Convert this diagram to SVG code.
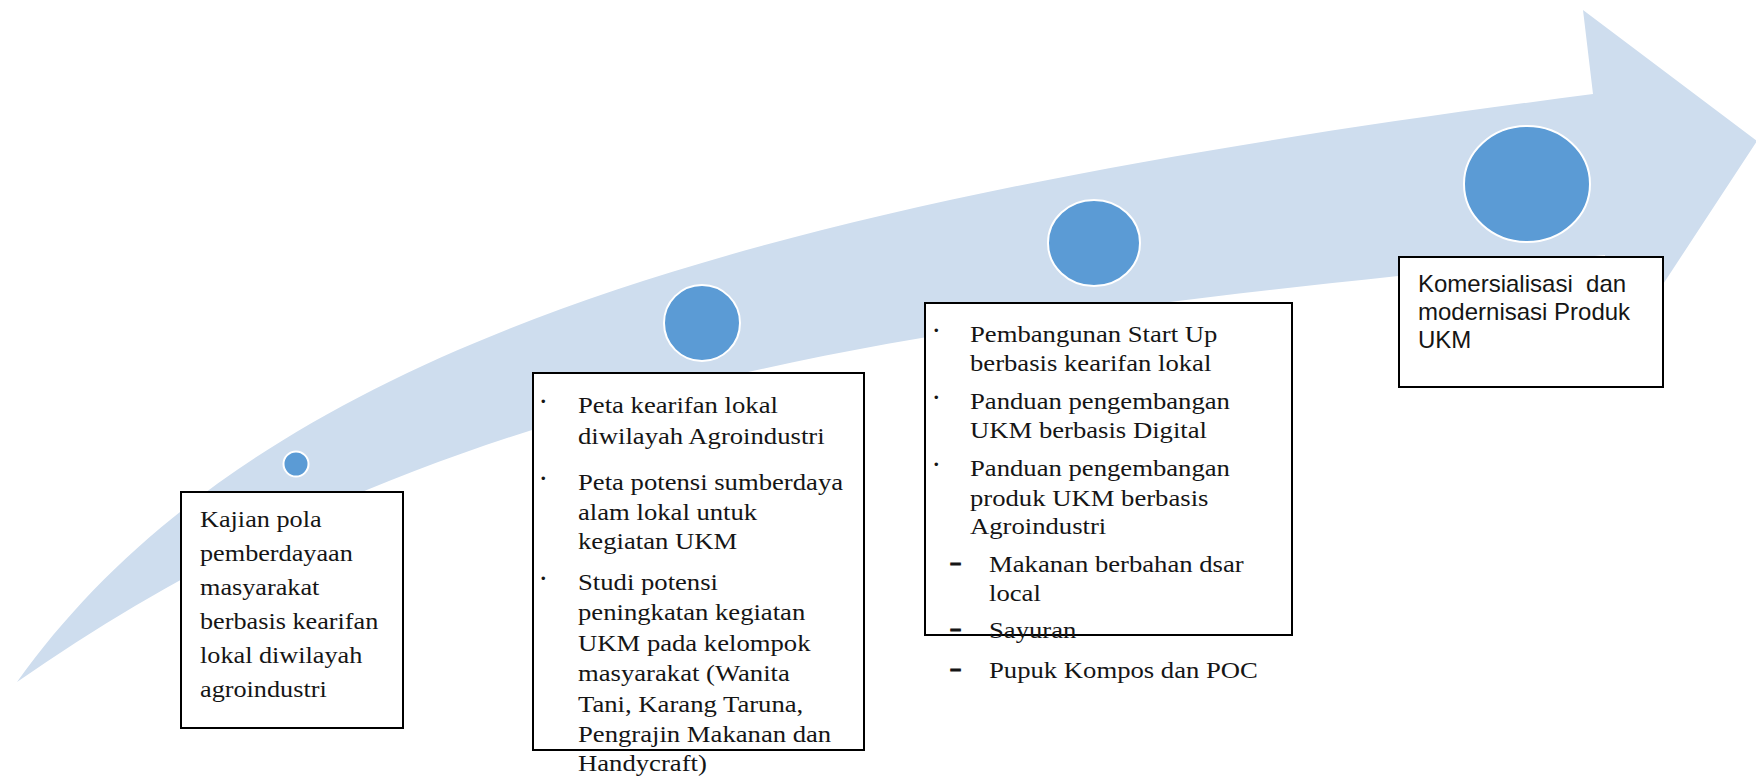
<svg xmlns="http://www.w3.org/2000/svg" width="1756" height="777" viewBox="0 0 1756 777">
<defs>
<style>
.band{fill:#CEDDEE;stroke:none}
.dot{fill:#5B9BD5;stroke:#FFFFFF;stroke-width:2}
.box{fill:#FFFFFF;stroke:#000000;stroke-width:2}
.serif{font-family:"Liberation Serif","Times New Roman",serif;font-size:23px;fill:#151515}
.sans{font-family:"Liberation Sans",Arial,sans-serif;font-size:24px;fill:#151515}
.bullet{font-family:"Liberation Sans",Arial,sans-serif;font-size:13px;fill:#151515}
.dash{font-family:"Liberation Sans",Arial,sans-serif;font-size:20px;font-weight:bold;fill:#151515;stroke:#151515;stroke-width:0.8}
</style>
</defs>
<rect x="0" y="0" width="1756" height="777" fill="#FFFFFF"/>
<g id="connectors">
<path id="progress-arrow" class="band" d="M17,682 C267,332 793,198 1593,94 L1583,10 L1757,141 L1610,365 L1605,255 C955,320 467,367 17,682 Z"/>
</g>
<g id="stage1">
<ellipse class="dot" cx="296" cy="464" rx="12.5" ry="12.5"/>
<rect class="box" x="181" y="492" width="222" height="236"/>
<g transform="translate(200 0) scale(1.14 1)" class="serif">
<text x="0" y="527">Kajian pola</text>
<text x="0" y="561">pemberdayaan</text>
<text x="0" y="595">masyarakat</text>
<text x="0" y="629">berbasis kearifan</text>
<text x="0" y="663">lokal diwilayah</text>
<text x="0" y="697">agroindustri</text>
</g>
</g>
<g id="stage2">
<ellipse class="dot" cx="702" cy="323" rx="38" ry="38"/>
<rect class="box" x="533" y="373" width="331" height="377"/>
<text class="bullet" x="541" y="405.5">•</text>
<text class="bullet" x="541" y="482.5">•</text>
<text class="bullet" x="541" y="582.5">•</text>
<g transform="translate(578 0) scale(1.16 1)" class="serif">
<text x="0" y="413">Peta kearifan lokal</text>
<text x="0" y="444">diwilayah Agroindustri</text>
<text x="0" y="490">Peta potensi sumberdaya</text>
<text x="0" y="520">alam lokal untuk</text>
<text x="0" y="549">kegiatan UKM</text>
<text x="0" y="590">Studi potensi</text>
<text x="0" y="620">peningkatan kegiatan</text>
<text x="0" y="651">UKM pada kelompok</text>
<text x="0" y="681">masyarakat (Wanita</text>
<text x="0" y="712">Tani, Karang Taruna,</text>
<text x="0" y="742">Pengrajin Makanan dan</text>
<text x="0" y="771">Handycraft)</text>
</g>
</g>
<g id="stage3">
<ellipse class="dot" cx="1094" cy="243" rx="46" ry="43"/>
<rect class="box" x="925" y="303" width="367" height="332"/>
<text class="bullet" x="934" y="334.5">•</text>
<text class="bullet" x="934" y="401.5">•</text>
<text class="bullet" x="934" y="468.5">•</text>
<text class="dash" x="950" y="569">–</text>
<text class="dash" x="950" y="635">–</text>
<text class="dash" x="950" y="675">–</text>
<g transform="translate(970 0) scale(1.16 1)" class="serif">
<text x="0" y="342">Pembangunan Start Up</text>
<text x="0" y="371">berbasis kearifan lokal</text>
<text x="0" y="409">Panduan pengembangan</text>
<text x="0" y="438">UKM berbasis Digital</text>
<text x="0" y="476">Panduan pengembangan</text>
<text x="0" y="506">produk UKM berbasis</text>
<text x="0" y="534">Agroindustri</text>
<text x="16.4" y="572">Makanan berbahan dsar</text>
<text x="16.4" y="601">local</text>
<text x="16.4" y="638">Sayuran</text>
<text x="16.4" y="678">Pupuk Kompos dan POC</text>
</g>
</g>
<g id="stage4">
<ellipse class="dot" cx="1527" cy="184" rx="63" ry="58"/>
<rect class="box" x="1399" y="257" width="264" height="130"/>
<text class="sans" x="1418" y="292" xml:space="preserve">Komersialisasi  dan</text>
<text class="sans" x="1418" y="320">modernisasi Produk</text>
<text class="sans" x="1418" y="348">UKM</text>
</g>
</svg>
